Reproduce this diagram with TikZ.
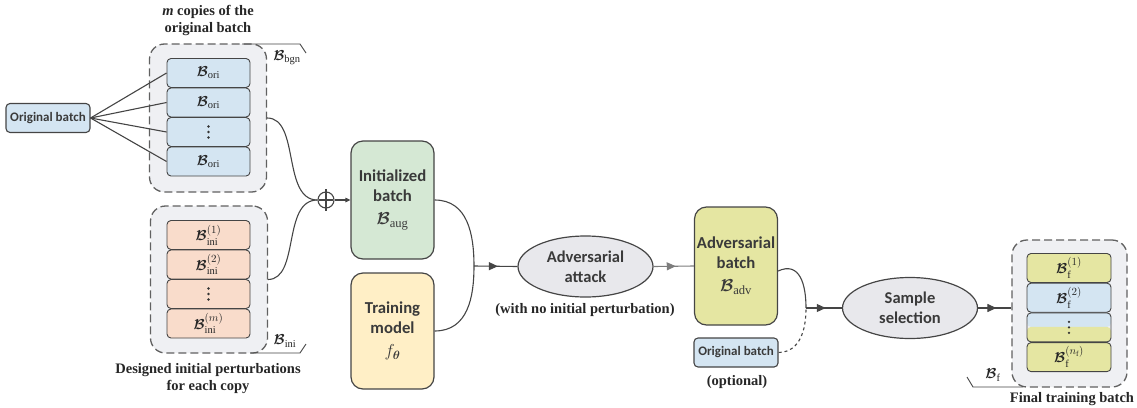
\documentclass[tikz,border=0pt]{standalone}
\usepackage{fontspec}
\usepackage{amsmath}
\usepackage{bm}
\setmainfont{Liberation Serif}
\newfontfamily\carl{Carlito}
\usetikzlibrary{shapes.geometric,arrows.meta,decorations.markings}
\definecolor{bordc}{HTML}{454545}
\definecolor{txtc}{HTML}{3A3A3A}
\definecolor{blu}{HTML}{D4E5F2}
\definecolor{pnk}{HTML}{F9DCCB}
\definecolor{grn}{HTML}{D5E8D4}
\definecolor{ylw}{HTML}{FFEFC6}
\definecolor{advc}{HTML}{E5E6A2}
\definecolor{grpbg}{HTML}{EFF0F3}
\definecolor{ellc}{HTML}{E8E8EC}
\newcommand{\cB}{\bm{\mathcal{B}}}
\newcommand{\bigmath}{\mdseries\fontsize{18}{20}\selectfont}
\begin{document}
\begin{tikzpicture}[x=1pt,y=-1pt,
  cell/.style={draw=bordc, line width=0.9pt, rounded corners=4pt, minimum width=83pt, minimum height=29pt, inner sep=0pt, text=black!85, font=\fontsize{15}{17}\selectfont},
  grp/.style={draw=bordc!85, dash pattern=on 8pt off 4pt, line width=1.3pt, fill=grpbg, rounded corners=15pt, minimum width=117pt, inner sep=0pt},
  bigbox/.style={draw=bordc, line width=1.2pt, rounded corners=12pt, minimum width=83pt, minimum height=118pt, align=center, inner sep=0pt, text=txtc, font=\carl\bfseries\fontsize{16.7}{20}\selectfont},
  smallbox/.style={draw=bordc, line width=1.1pt, fill=blu, rounded corners=4pt, minimum width=84pt, minimum height=29pt, inner sep=0pt, text=txtc, font=\carl\bfseries\fontsize{13}{14}\selectfont},
  ell/.style={ellipse, draw=bordc, fill=ellc, line width=1.2pt, minimum width=135pt, minimum height=61pt, inner sep=0pt, align=center, text=txtc, font=\carl\bfseries\fontsize{16.5}{20}\selectfont},
  lbl/.style={align=center, text=black!85, font=\bfseries\fontsize{14.5}{17}\selectfont},
  mlbl/.style={inner sep=0pt, text=black!85, font=\fontsize{15}{17}\selectfont},
  conn/.style={draw=bordc, line width=1.1pt},
  dotc/.style={fill=black!80},
  midarr/.style={conn, postaction={decorate}, decoration={markings, mark=at position 0.55 with {\arrow{Triangle[length=9pt,width=8pt]}}}},
]
\useasboundingbox (0,0) rectangle (1137,407);

% ---- top group (copies of original batch)
\node[grp, minimum height=148pt] (gtop) at (208,118) {};
\node[cell, fill=blu] (o1) at (208.5,73) {$\cB_{\mathrm{ori}}$};
\node[cell, fill=blu] (o2) at (208.5,102.5) {$\cB_{\mathrm{ori}}$};
\node[cell, fill=blu] (o3) at (208.5,132) {};
\node[cell, fill=blu] (o4) at (208.5,161.5) {$\cB_{\mathrm{ori}}$};
\node[lbl] (ttop) at (208,20) {{\itshape m} copies of the\\original batch};
\coordinate (bg1) at (242,44);
\coordinate (bg2) at (300,44);
\coordinate (bg3) at (306,53);
\draw[conn, line width=0.9pt] (bg1) -- (bg2) -- (bg3);
\node[mlbl] (lbgn) at (287,58) {$\cB_{\mathrm{bgn}}$};

% ---- original batch
\node[smallbox] (orig) at (48,118) {Original batch};
\foreach \c in {o1,o2,o3,o4} \draw[conn] (orig.east) -- (\c.west);

% ---- bottom group (initial perturbations)
\node[grp, minimum height=147pt] (gbot) at (209,279.5) {};
\node[cell, fill=pnk] (p1) at (208.5,235) {$\cB_{\mathrm{ini}}^{(1)}$};
\node[cell, fill=pnk] (p2) at (208.5,264.5) {$\cB_{\mathrm{ini}}^{(2)}$};
\node[cell, fill=pnk] (p3) at (208.5,294) {};
\node[cell, fill=pnk] (p4) at (208.5,323.5) {$\cB_{\mathrm{ini}}^{(m)}$};
\coordinate (bi1) at (250,353);
\coordinate (bi2) at (300,353);
\coordinate (bi3) at (306,344);
\draw[conn, line width=0.9pt] (bi1) -- (bi2) -- (bi3);
\node[mlbl] (lini) at (285,341) {$\cB_{\mathrm{ini}}$};
\node[lbl] (tbot) at (208,378.5) {Designed initial perturbations\\for each copy};

% ---- oplus
\node[circle, draw=bordc, line width=1.1pt, minimum size=16pt, inner sep=0pt] (plus) at (326,200) {};
\draw[conn] ([yshift=2pt]plus.north) -- ([yshift=-2pt]plus.south);
\draw[conn] ([xshift=2pt]plus.west) -- ([xshift=-2pt]plus.east);
\draw[conn] (gtop.east) .. controls (300,118) and (282,200) .. (plus.west);
\draw[conn] (gbot.east) .. controls (300,279) and (282,200) .. (plus.west);

% ---- green and yellow boxes
\node[bigbox, fill=grn] (aug) at (392.5,200) {Initialized\\batch\\[3pt]{\bigmath$\cB_{\mathrm{aug}}$}};
\node[bigbox, fill=ylw, minimum height=116pt] (model) at (392.5,331) {Training\\model\\[3pt]{\bigmath$f_{\bm{\theta}}$}};
\draw[conn, -{Triangle[length=5pt,width=4.5pt]}] (plus.east) -- (aug.west);

\coordinate (m1) at (474,266);
\draw[conn] (aug.east) .. controls (468,200) and (474,235) .. (m1);
\draw[conn] (model.east) .. controls (468,331) and (474,297) .. (m1);

% ---- adversarial attack
\node[ell] (atk) at (585.5,266.5) {Adversarial\\attack};
\draw[midarr] (m1) -- (atk.west);
\node[lbl] (tatk) at (585,310) {(with no initial perturbation)};

% ---- adversarial batch
\node[bigbox, fill=advc] (adv) at (736,266) {Adversarial\\batch\\[3pt]{\bigmath$\cB_{\mathrm{adv}}$}};
\draw[midarr, draw=bordc!70] (atk.east) -- (adv.west);
\node[smallbox] (orig2) at (736,352.5) {Original batch};
\node[lbl] (topt) at (737,382) {(optional)};

\coordinate (m2) at (806,308);
\draw[conn] ([yshift=-5pt]adv.east) .. controls (800,261) and (806,285) .. (m2);
\draw[conn, dashed] (orig2.east) .. controls (800,352) and (806,330) .. (m2);

% ---- sample selection
\node[ell] (sel) at (910,308) {Sample\\selection};
\draw[midarr] (m2) -- (sel.west);

% ---- final group
\node[grp, minimum width=115pt, minimum height=147pt] (gfin) at (1069.5,313.5) {};
\node[cell, fill=advc, minimum width=84pt] (f1) at (1069,268) {$\cB_{\mathrm{f}}^{(1)}$};
\node[cell, fill=blu, minimum width=84pt] (f2) at (1069,297.7) {$\cB_{\mathrm{f}}^{(2)}$};
\node[cell, minimum width=84pt, path picture={
  \fill[blu] (path picture bounding box.north west) rectangle ([yshift=-14pt]path picture bounding box.north east);
  \fill[advc] ([yshift=-14pt]path picture bounding box.north west) rectangle (path picture bounding box.south east);}] (f3) at (1069,327.4) {};
\node[cell, fill=advc, minimum width=84pt] (f4) at (1069,357.1) {$\cB_{\mathrm{f}}^{(n_{\mathrm{f}})}$};
\draw[midarr] (sel.east) -- (sel.east -| gfin.west);
\coordinate (bf1) at (967,377);
\coordinate (bf2) at (973,387);
\coordinate (bf3) at (1023,387);
\draw[conn, line width=0.9pt] (bf1) -- (bf2) -- (bf3);
\node[mlbl] (lf) at (993,375) {$\cB_{\mathrm{f}}$};
\node[lbl] (tfin) at (1072,399) {Final training batch};

% ---- vertical ellipsis dots
\foreach \c in {o3,p3,f3}
  \foreach \d in {-5.5,0,5.5}
    \fill[dotc] ([yshift=\d pt]\c.center) circle (1.3pt);
\end{tikzpicture}
\end{document}
